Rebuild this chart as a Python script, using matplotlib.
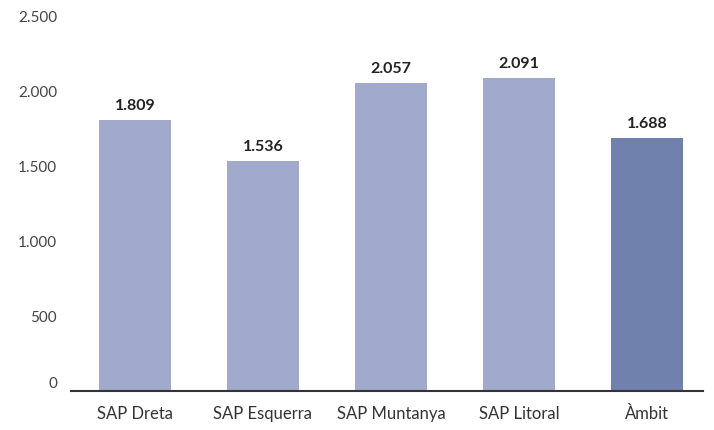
import matplotlib.pyplot as plt
import matplotlib.transforms as mtransforms
import numpy as np

categories = ["SAP Dreta", "SAP Esquerra", "SAP Muntanya", "SAP Litoral", "Àmbit"]
values = [1809, 1536, 2057, 2091, 1688]
value_labels = ["1.809", "1.536", "2.057", "2.091", "1.688"]
yticks = [0, 500, 1000, 1500, 2000, 2500]
ytick_labels = ["0", "500", "1.000", "1.500", "2.000", "2.500"]

light = "#a1aacc"
dark = "#7181ae"
colors = [light, light, light, light, dark]

plt.rcParams["font.family"] = ["Lato", "DejaVu Sans"]

fig = plt.figure(figsize=(7.14, 4.30), dpi=100)
ax = fig.add_axes([0.0994, 0.0907, 0.8852, 0.8709])

x = np.arange(len(categories))
bars = ax.bar(x, values, width=0.5625, color=colors, zorder=2)

for rect, lab in zip(bars, value_labels):
    ax.annotate(lab, (rect.get_x() + rect.get_width() / 2, rect.get_height()),
                xytext=(0, 5), textcoords="offset points", ha="center", va="bottom",
                fontsize=11.5, fontweight="bold", color="#222222")

ax.set_xlim(-0.5, 4.4375)
ax.set_ylim(0, 2500)
ax.set_xticks(x)
ax.set_xticklabels(categories, fontsize=12, color="#333333")
ax.set_yticks(yticks)
ax.set_yticklabels(ytick_labels, fontsize=11, color="#444444")
ax.tick_params(axis="both", length=0)
ax.tick_params(axis="y", pad=10)
ax.tick_params(axis="x", pad=11)

# the 0 label sits a little above the baseline
zero = ax.get_yticklabels()[0]
zero.set_transform(zero.get_transform() + mtransforms.ScaledTranslation(0, 8 / 100, fig.dpi_scale_trans))

for side in ["top", "right", "left"]:
    ax.spines[side].set_visible(False)
ax.spines["bottom"].set_color("#333333")
ax.spines["bottom"].set_linewidth(1.5)
ax.spines["bottom"].set_zorder(3)

fig.savefig("out.png", dpi=100)
